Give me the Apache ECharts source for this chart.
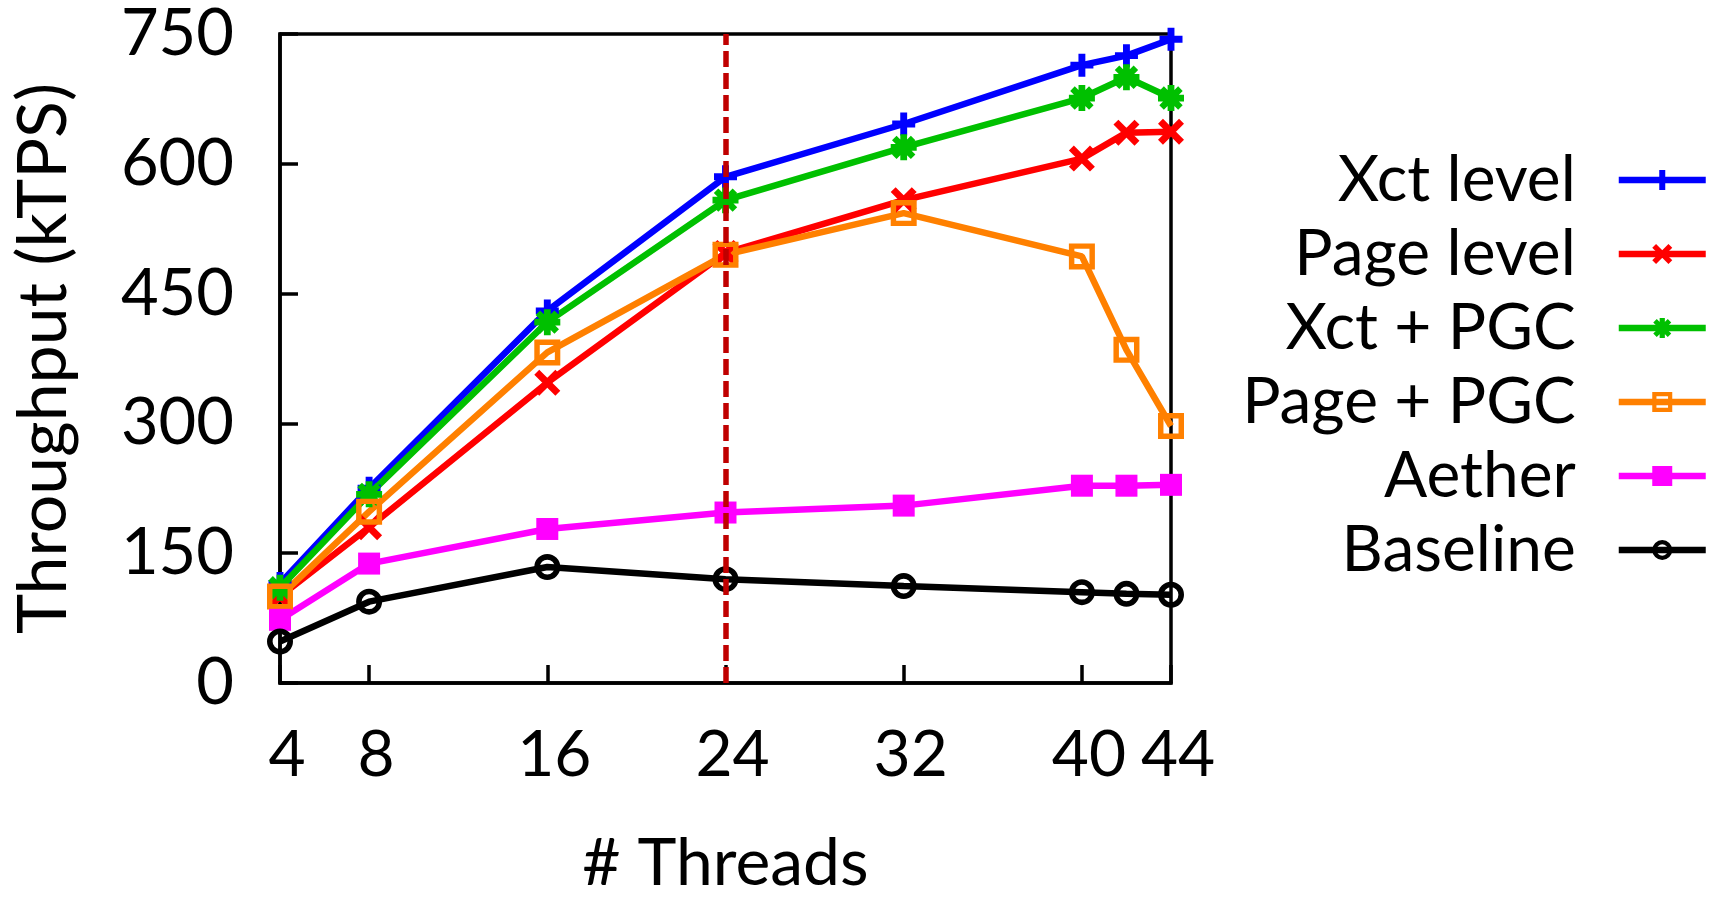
<!DOCTYPE html>
<html>
<head>
<meta charset="utf-8">
<script src="https://cdn.jsdelivr.net/npm/echarts@6/dist/echarts.min.js"></script>
<style>
  html, body { margin: 0; padding: 0; background: #fff; }
  #chart { width: 1719px; height: 902px; }
</style>
</head>
<body>
<div id="chart"></div>
<script>
// data
var threads = [4, 8, 16, 24, 32, 40, 42, 44];
var xLabels = [4, 8, 16, 24, 32, 40, 44];
var yTicks = [0, 150, 300, 450, 600, 750];

var xctLevel = [115, 225, 430, 585, 646, 714, 725, 744];
var pageLevel = [100, 180, 347, 497, 558, 606, 636, 637];
var xctPgc = [110, 218, 417, 558, 619, 676, 700, 676];
var pagePgc = [100, 198, 382, 495, 543, 493, 385, 297];
var aether = [73, 138, 178, 197, 205, 228, 228, 229];
var baseline = [48, 94, 134, 120, 112, 105, 103, 102];

var markerX = 24;

// gnuplot-like point shapes
var plusPath = 'path://M-1,-0.3L1,-0.3L1,0.3L-1,0.3Z M-0.3,-1L0.3,-1L0.3,1L-0.3,1Z';
var crossPath = 'path://M-1,-0.62L-0.62,-1L1,0.62L0.62,1Z M-0.62,1L-1,0.62L0.62,-1L1,-0.62Z';
var starPath = 'path://M-1,-0.26L1,-0.26L1,0.26L-1,0.26Z M-0.26,-1L0.26,-1L0.26,1L-0.26,1Z ' +
    'M-0.9,-0.55L-0.55,-0.9L0.9,0.55L0.55,0.9Z M-0.55,0.9L-0.9,0.55L0.55,-0.9L0.9,-0.55Z';
var squareRing = 'path://M-1,-1L1,-1L1,1L-1,1Z M-0.58,-0.58L-0.58,0.58L0.58,0.58L0.58,-0.58Z';
var circleRing = 'path://M-1,0A1,1 0 1,0 1,0A1,1 0 1,0 -1,0Z M-0.57,0A0.57,0.57 0 1,1 0.57,0A0.57,0.57 0 1,1 -0.57,0Z';

function pairs(vals) {
    return vals.map(function (v, i) { return [threads[i], v]; });
}

function mkSeries(name, vals, color, symbol, size) {
    return {
        name: name,
        type: 'line',
        data: pairs(vals),
        symbol: symbol,
        symbolSize: size,
        showAllSymbol: true,
        clip: false,
        color: color,
        lineStyle: { color: color, width: 6.5 },
        itemStyle: { color: color, borderWidth: 0 },
        emphasis: { disabled: true }
    };
}

var chart = echarts.init(document.getElementById('chart'));
var font = 'Lato';

var baseSeries = mkSeries('Baseline', baseline, '#000000', circleRing, 26);
baseSeries.markLine = {
    silent: true,
    symbol: 'none',
    label: { show: false },
    lineStyle: { color: '#c00000', width: 5.5, type: [16, 6] },
    data: [{ xAxis: markerX }]
};

var option = {
    animation: false,
    textStyle: { fontFamily: font },
    grid: {
        left: 280, right: 548, top: 34, bottom: 215,
        show: true, borderColor: '#000', borderWidth: 3.5
    },
    legend: {
        orient: 'vertical',
        align: 'right',
        right: 5,
        top: 143,
        itemWidth: 87,
        itemHeight: 25,
        itemGap: 10,
        lineStyle: { width: 'inherit' },
        textStyle: { fontFamily: font, fontSize: 64, color: '#000', lineHeight: 64, padding: [0, 38, 0, 0] },
        selectedMode: false
    },
    xAxis: {
        type: 'value',
        min: 4,
        max: 44,
        name: '# Threads',
        nameLocation: 'middle',
        nameGap: 148,
        nameTextStyle: { fontFamily: font, fontSize: 66, color: '#000' },
        splitLine: { show: false },
        axisLine: { lineStyle: { color: '#000', width: 3.5 } },
        axisTick: { inside: true, length: 18, lineStyle: { color: '#000', width: 3.5 }, customValues: xLabels },
        axisLabel: {
            customValues: xLabels,
            fontFamily: font, fontSize: 64, color: '#000',
            margin: 40, padding: [0, 0, 0, 14]
        }
    },
    yAxis: {
        type: 'value',
        min: 0,
        max: 750,
        interval: 150,
        name: 'Throughput (kTPS)',
        nameLocation: 'middle',
        nameGap: 202,
        nameTextStyle: { fontFamily: font, fontSize: 68, color: '#000' },
        splitLine: { show: false },
        axisLine: { show: true, lineStyle: { color: '#000', width: 3.5 } },
        axisTick: { inside: true, length: 18, lineStyle: { color: '#000', width: 3.5 } },
        axisLabel: {
            fontFamily: font, fontSize: 65, color: '#000', margin: 46,
            formatter: function (v) { return yTicks.indexOf(v) >= 0 ? String(v) : ''; }
        }
    },
    series: [
        mkSeries('Xct level', xctLevel, '#0000ff', plusPath, 23),
        mkSeries('Page level', pageLevel, '#ff0000', crossPath, 26),
        mkSeries('Xct + PGC', xctPgc, '#00c000', starPath, 26),
        mkSeries('Page + PGC', pagePgc, '#ff8000', squareRing, 26),
        mkSeries('Aether', aether, '#ff00ff', 'rect', 22),
        baseSeries
    ]
};

chart.setOption(option);
</script>
</body>
</html>
